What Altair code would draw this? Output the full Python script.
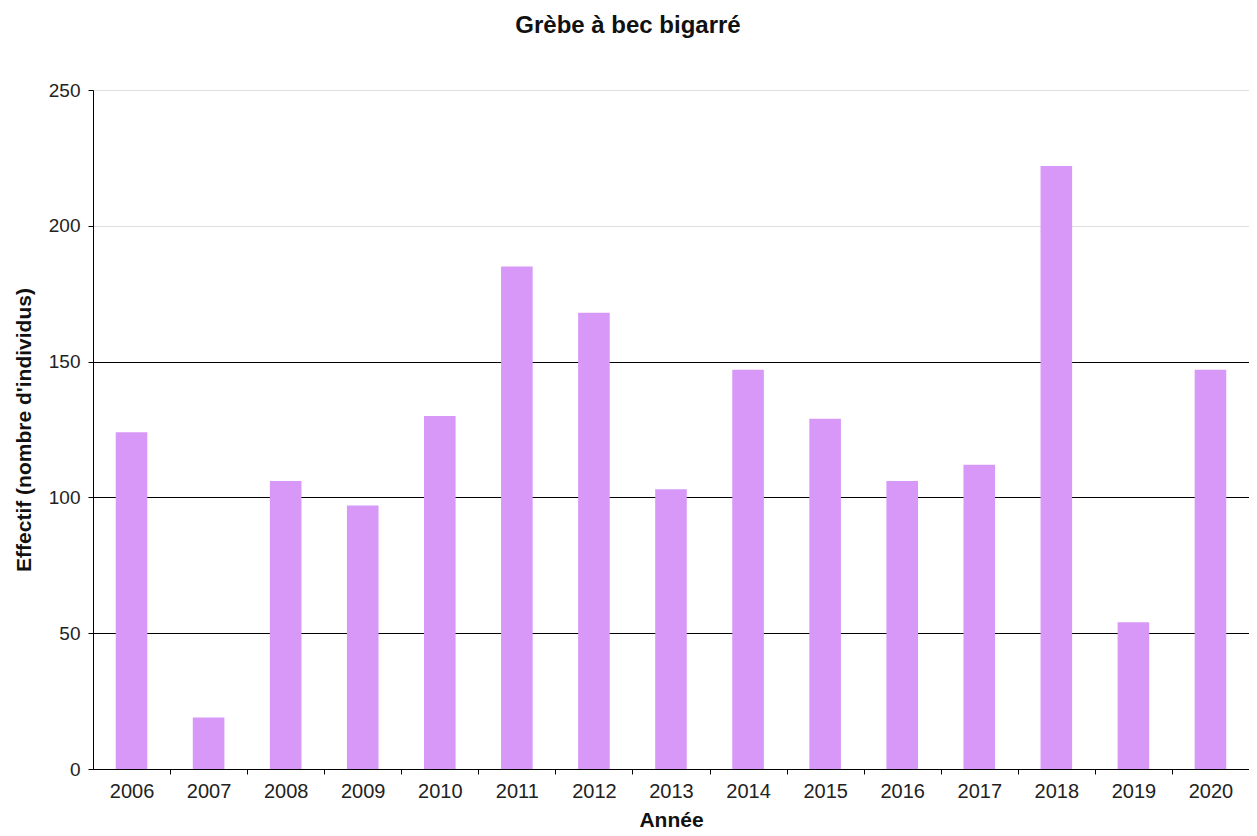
import altair as alt
import pandas as pd

years = ["2006", "2007", "2008", "2009", "2010", "2011", "2012", "2013",
         "2014", "2015", "2016", "2017", "2018", "2019", "2020"]
counts = [124, 19, 106, 97, 130, 185, 168, 103, 147, 129, 106, 112, 222, 54, 147]

df = pd.DataFrame({"Année": years, "Effectif": counts})

FONT = "Liberation Sans"

chart = alt.Chart(df).mark_bar(color="#d898f8").encode(
    x=alt.X("Année:N", sort=years,
            scale=alt.Scale(paddingInner=0.59, paddingOuter=0.295),
            axis=alt.Axis(title="Année", labelAngle=0, tickOffset=38.5,
                          labelOffset=-38.5,
                          grid=False, domainColor="black", tickColor="black",
                          tickSize=5, labelFontSize=20, labelColor="#222222",
                          labelFont=FONT, titleFont=FONT, titleFontSize=21,
                          titleFontWeight="bold", titleColor="#111111",
                          labelPadding=7, titlePadding=8)),
    y=alt.Y("Effectif:Q",
            scale=alt.Scale(domain=[0, 250], nice=False),
            axis=alt.Axis(title="Effectif (nombre d'individus)",
                          values=[0, 50, 100, 150, 200, 250],
                          gridColor=alt.condition("datum.value >= 200",
                                                  alt.value("#dddddd"),
                                                  alt.value("#000000")),
                          gridWidth=1.2,
                          domainColor="black", tickColor="black", tickSize=5,
                          labelFontSize=19, labelColor="#222222",
                          labelFont=FONT, titleFont=FONT, titleFontSize=21,
                          titleFontWeight="bold", titleColor="#111111",
                          labelPadding=8, titlePadding=14)),
).properties(
    width=1156,
    height=679,
    title=alt.Title("Grèbe à bec bigarré", font=FONT, fontSize=24,
                    fontWeight="bold", color="#111111", anchor="middle",
                    dx=-43, offset=43),
    padding={"left": 85, "top": 82, "right": 0, "bottom": 60},
    autosize=alt.AutoSizeParams(type="none"),
).configure_view(stroke="#dddddd")

chart.save("out.html", embed_options={"renderer": "svg", "actions": False})
